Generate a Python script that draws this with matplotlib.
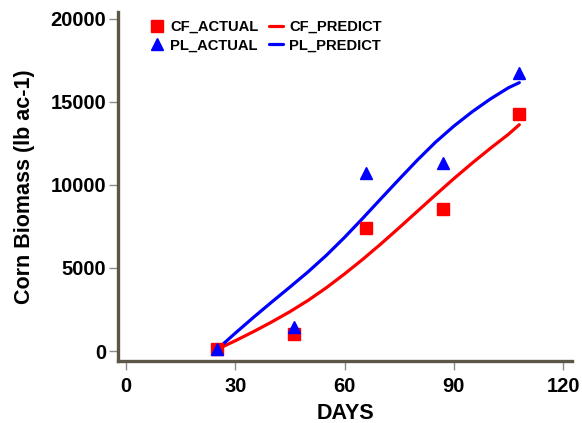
import matplotlib
matplotlib.use('Agg')
import matplotlib.pyplot as plt

plt.rcParams['font.family'] = ['Liberation Sans', 'DejaVu Sans']
plt.rcParams['font.weight'] = 'bold'

# measured biomass
days_actual = [25, 46, 66, 87, 108]
cf_actual = [120, 1020, 7390, 8530, 14290]
pl_actual = [100, 1440, 10690, 11290, 16760]

# model prediction
days_pred = [25, 30, 35, 40, 45, 50, 55, 60, 65, 70, 75, 80, 85, 90, 95, 100, 105, 108]
cf_predict = [100, 620, 1170, 1750, 2370, 3050, 3810, 4640, 5520, 6450, 7420,
              8410, 9400, 10370, 11300, 12190, 13040, 13620]
pl_predict = [100, 1080, 2030, 2950, 3850, 4770, 5760, 6840, 7990, 9170, 10340,
              11490, 12570, 13530, 14390, 15160, 15840, 16150]

x_ticks = [0, 30, 60, 90, 120]
y_ticks = [0, 5000, 10000, 15000, 20000]

fig = plt.figure(figsize=(5.82, 4.23), dpi=100)
ax = fig.add_axes([0.203, 0.1466, 0.780, 0.825])

ax.plot(days_pred, cf_predict, color='#ff0000', lw=2.3, solid_capstyle='round',
        label='CF_PREDICT', zorder=2)
ax.plot(days_pred, pl_predict, color='#0000ff', lw=2.3, solid_capstyle='round',
        label='PL_PREDICT', zorder=2)
ax.plot(days_actual, cf_actual, ls='none', marker='s', ms=8, color='#ff0000',
        mec='#ff0000', label='CF_ACTUAL', zorder=3)
ax.plot(days_actual, pl_actual, ls='none', marker='^', ms=9, color='#0000ff',
        mec='#0000ff', label='PL_ACTUAL', zorder=4)

ax.set_xlim(-2.2, 122.5)
ax.set_ylim(-600, 20400)
ax.set_xticks(x_ticks)
ax.set_yticks(y_ticks)

for side in ['top', 'right']:
    ax.spines[side].set_visible(False)
for side in ['left', 'bottom']:
    ax.spines[side].set_color('#5b5647')
    ax.spines[side].set_linewidth(2.4)

ax.tick_params(axis='both', direction='out', length=6.5, width=1, color='#8c8c8c',
               labelsize=14.5)
ax.tick_params(axis='x', pad=5)
ax.tick_params(axis='y', pad=2)
for lbl in ax.get_xticklabels() + ax.get_yticklabels():
    lbl.set_fontweight('bold')

ax.set_xlabel('DAYS', fontsize=15.5, fontweight='bold', labelpad=5)
ax.set_ylabel('Corn Biomass (lb ac-1)', fontsize=15.5, fontweight='bold', labelpad=11)

handles, labels = ax.get_legend_handles_labels()
order = [2, 3, 0, 1]
ax.legend([handles[i] for i in order], [labels[i] for i in order], ncol=2,
          loc='upper left', bbox_to_anchor=(0.04, 1.015), frameon=False,
          prop={'size': 10.6, 'weight': 'bold'}, handlelength=1.0,
          handletextpad=0.4, columnspacing=0.7, labelspacing=0.3)

fig.savefig('out.png', dpi=100)
